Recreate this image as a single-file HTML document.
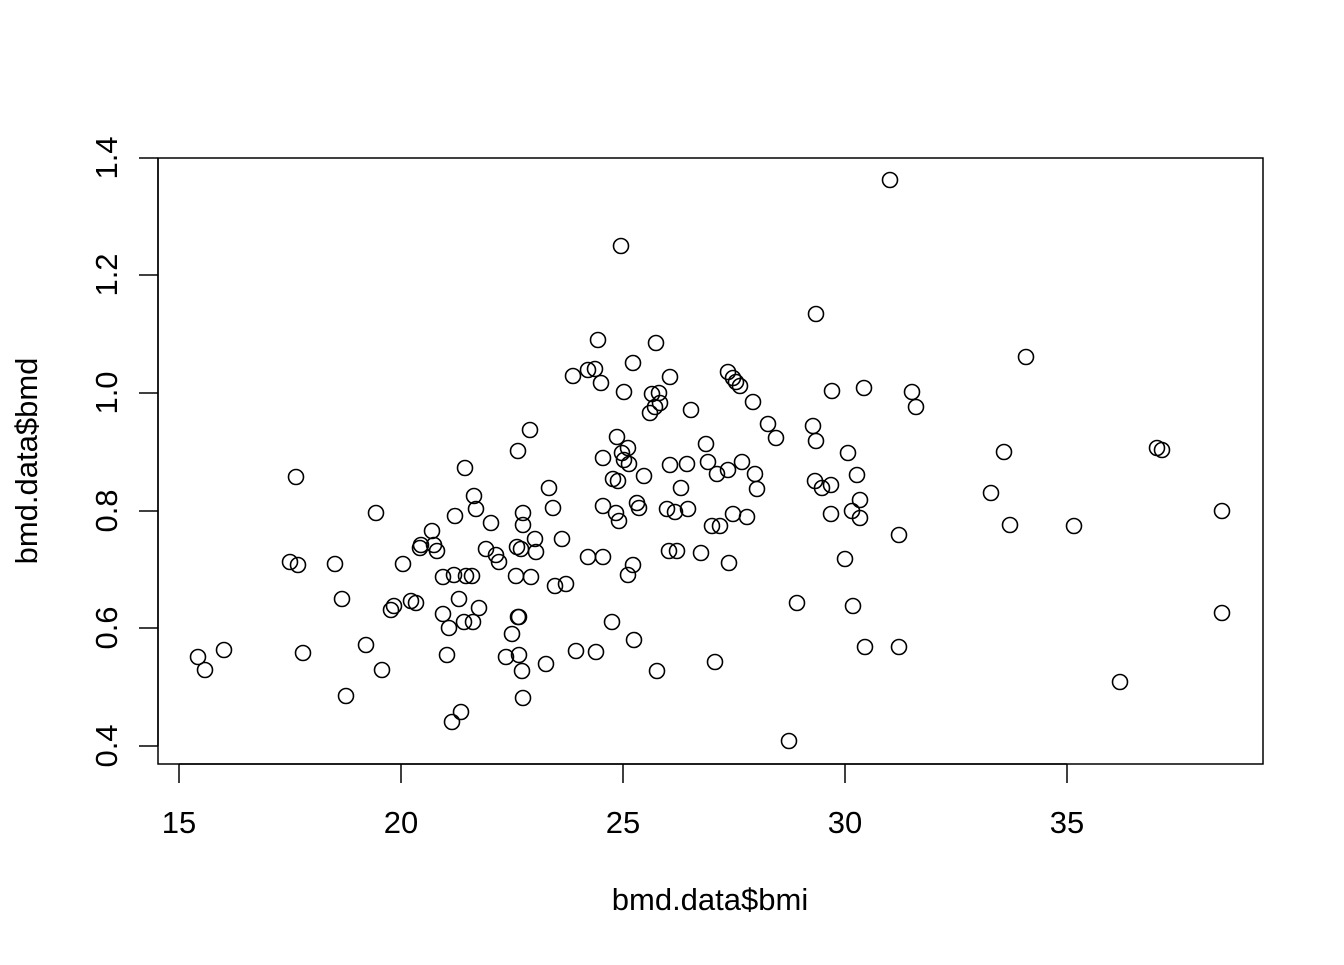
<!DOCTYPE html><html><head><style>body{margin:0;background:#fff}</style></head><body>
<svg width="1344" height="960" xmlns="http://www.w3.org/2000/svg" font-family="Liberation Sans, sans-serif">
<rect x="0" y="0" width="1344" height="960" fill="#fff"/>
<rect x="158" y="158" width="1105" height="606" fill="none" stroke="#000" stroke-width="1.5"/>
<g stroke="#000" stroke-width="1.5">
<line x1="179" y1="764" x2="1067" y2="764"/>
<line x1="179" y1="764" x2="179" y2="783"/><line x1="401" y1="764" x2="401" y2="783"/><line x1="623" y1="764" x2="623" y2="783"/><line x1="845" y1="764" x2="845" y2="783"/><line x1="1067" y1="764" x2="1067" y2="783"/>
<line x1="158" y1="158" x2="158" y2="746"/>
<line x1="139" y1="746" x2="158" y2="746"/><line x1="139" y1="628" x2="158" y2="628"/><line x1="139" y1="511" x2="158" y2="511"/><line x1="139" y1="393" x2="158" y2="393"/><line x1="139" y1="275" x2="158" y2="275"/><line x1="139" y1="158" x2="158" y2="158"/>
</g>
<g font-size="31" text-anchor="middle" fill="#000">
<text x="179" y="833">15</text><text x="401" y="833">20</text><text x="623" y="833">25</text><text x="845" y="833">30</text><text x="1067" y="833">35</text>
<text x="710" y="910">bmd.data$bmi</text>
<text transform="translate(117,746) rotate(-90)">0.4</text>
<text transform="translate(117,628) rotate(-90)">0.6</text>
<text transform="translate(117,511) rotate(-90)">0.8</text>
<text transform="translate(117,393) rotate(-90)">1.0</text>
<text transform="translate(117,275) rotate(-90)">1.2</text>
<text transform="translate(117,158) rotate(-90)">1.4</text>
<text transform="translate(37,461) rotate(-90)">bmd.data$bmd</text>
</g>
<g fill="none" stroke="#000" stroke-width="1.6">
<circle cx="198" cy="657" r="7.5"/><circle cx="205" cy="670" r="7.5"/><circle cx="224" cy="650" r="7.5"/><circle cx="290" cy="562" r="7.5"/><circle cx="298" cy="565" r="7.5"/><circle cx="296" cy="477" r="7.5"/><circle cx="303" cy="653" r="7.5"/><circle cx="335" cy="564" r="7.5"/><circle cx="342" cy="599" r="7.5"/><circle cx="346" cy="696" r="7.5"/><circle cx="366" cy="645" r="7.5"/><circle cx="376" cy="513" r="7.5"/><circle cx="382" cy="670" r="7.5"/><circle cx="391" cy="610" r="7.5"/><circle cx="394" cy="606" r="7.5"/><circle cx="403" cy="564" r="7.5"/><circle cx="411" cy="601" r="7.5"/><circle cx="416" cy="603" r="7.5"/><circle cx="420" cy="548" r="7.5"/><circle cx="421" cy="545" r="7.5"/><circle cx="432" cy="531" r="7.5"/><circle cx="434" cy="545" r="7.5"/><circle cx="437" cy="551" r="7.5"/><circle cx="443" cy="614" r="7.5"/><circle cx="443" cy="577" r="7.5"/><circle cx="447" cy="655" r="7.5"/><circle cx="449" cy="628" r="7.5"/><circle cx="452" cy="722" r="7.5"/><circle cx="454" cy="575" r="7.5"/><circle cx="455" cy="516" r="7.5"/><circle cx="459" cy="599" r="7.5"/><circle cx="461" cy="712" r="7.5"/><circle cx="464" cy="622" r="7.5"/><circle cx="465" cy="468" r="7.5"/><circle cx="466" cy="576" r="7.5"/><circle cx="472" cy="576" r="7.5"/><circle cx="473" cy="622" r="7.5"/><circle cx="474" cy="496" r="7.5"/><circle cx="476" cy="509" r="7.5"/><circle cx="479" cy="608" r="7.5"/><circle cx="486" cy="549" r="7.5"/><circle cx="491" cy="523" r="7.5"/><circle cx="496" cy="555" r="7.5"/><circle cx="499" cy="562" r="7.5"/><circle cx="506" cy="657" r="7.5"/><circle cx="512" cy="634" r="7.5"/><circle cx="516" cy="576" r="7.5"/><circle cx="517" cy="547" r="7.5"/><circle cx="518" cy="451" r="7.5"/><circle cx="518" cy="617" r="7.5"/><circle cx="519" cy="617" r="7.5"/><circle cx="519" cy="655" r="7.5"/><circle cx="521" cy="549" r="7.5"/><circle cx="522" cy="671" r="7.5"/><circle cx="523" cy="698" r="7.5"/><circle cx="523" cy="513" r="7.5"/><circle cx="523" cy="525" r="7.5"/><circle cx="530" cy="430" r="7.5"/><circle cx="531" cy="577" r="7.5"/><circle cx="535" cy="539" r="7.5"/><circle cx="536" cy="552" r="7.5"/><circle cx="546" cy="664" r="7.5"/><circle cx="549" cy="488" r="7.5"/><circle cx="553" cy="508" r="7.5"/><circle cx="555" cy="586" r="7.5"/><circle cx="562" cy="539" r="7.5"/><circle cx="566" cy="584" r="7.5"/><circle cx="573" cy="376" r="7.5"/><circle cx="576" cy="651" r="7.5"/><circle cx="588" cy="557" r="7.5"/><circle cx="588" cy="370" r="7.5"/><circle cx="595" cy="369" r="7.5"/><circle cx="596" cy="652" r="7.5"/><circle cx="598" cy="340" r="7.5"/><circle cx="601" cy="383" r="7.5"/><circle cx="603" cy="458" r="7.5"/><circle cx="603" cy="506" r="7.5"/><circle cx="603" cy="557" r="7.5"/><circle cx="612" cy="622" r="7.5"/><circle cx="613" cy="479" r="7.5"/><circle cx="616" cy="513" r="7.5"/><circle cx="617" cy="437" r="7.5"/><circle cx="618" cy="481" r="7.5"/><circle cx="619" cy="521" r="7.5"/><circle cx="621" cy="246" r="7.5"/><circle cx="622" cy="453" r="7.5"/><circle cx="624" cy="392" r="7.5"/><circle cx="624" cy="460" r="7.5"/><circle cx="628" cy="448" r="7.5"/><circle cx="629" cy="464" r="7.5"/><circle cx="628" cy="575" r="7.5"/><circle cx="633" cy="565" r="7.5"/><circle cx="634" cy="640" r="7.5"/><circle cx="633" cy="363" r="7.5"/><circle cx="637" cy="503" r="7.5"/><circle cx="639" cy="508" r="7.5"/><circle cx="644" cy="476" r="7.5"/><circle cx="650" cy="413" r="7.5"/><circle cx="652" cy="394" r="7.5"/><circle cx="655" cy="407" r="7.5"/><circle cx="656" cy="343" r="7.5"/><circle cx="657" cy="671" r="7.5"/><circle cx="659" cy="393" r="7.5"/><circle cx="660" cy="403" r="7.5"/><circle cx="667" cy="509" r="7.5"/><circle cx="669" cy="551" r="7.5"/><circle cx="670" cy="465" r="7.5"/><circle cx="670" cy="377" r="7.5"/><circle cx="675" cy="512" r="7.5"/><circle cx="677" cy="551" r="7.5"/><circle cx="681" cy="488" r="7.5"/><circle cx="687" cy="464" r="7.5"/><circle cx="688" cy="509" r="7.5"/><circle cx="691" cy="410" r="7.5"/><circle cx="701" cy="553" r="7.5"/><circle cx="706" cy="444" r="7.5"/><circle cx="708" cy="462" r="7.5"/><circle cx="712" cy="526" r="7.5"/><circle cx="715" cy="662" r="7.5"/><circle cx="717" cy="474" r="7.5"/><circle cx="720" cy="526" r="7.5"/><circle cx="728" cy="372" r="7.5"/><circle cx="728" cy="470" r="7.5"/><circle cx="729" cy="563" r="7.5"/><circle cx="733" cy="378" r="7.5"/><circle cx="733" cy="514" r="7.5"/><circle cx="736" cy="382" r="7.5"/><circle cx="740" cy="386" r="7.5"/><circle cx="742" cy="462" r="7.5"/><circle cx="747" cy="517" r="7.5"/><circle cx="753" cy="402" r="7.5"/><circle cx="755" cy="474" r="7.5"/><circle cx="757" cy="489" r="7.5"/><circle cx="768" cy="424" r="7.5"/><circle cx="776" cy="438" r="7.5"/><circle cx="789" cy="741" r="7.5"/><circle cx="797" cy="603" r="7.5"/><circle cx="813" cy="426" r="7.5"/><circle cx="816" cy="314" r="7.5"/><circle cx="816" cy="441" r="7.5"/><circle cx="815" cy="481" r="7.5"/><circle cx="822" cy="488" r="7.5"/><circle cx="831" cy="485" r="7.5"/><circle cx="831" cy="514" r="7.5"/><circle cx="832" cy="391" r="7.5"/><circle cx="845" cy="559" r="7.5"/><circle cx="848" cy="453" r="7.5"/><circle cx="852" cy="511" r="7.5"/><circle cx="853" cy="606" r="7.5"/><circle cx="857" cy="475" r="7.5"/><circle cx="860" cy="500" r="7.5"/><circle cx="860" cy="518" r="7.5"/><circle cx="864" cy="388" r="7.5"/><circle cx="865" cy="647" r="7.5"/><circle cx="890" cy="180" r="7.5"/><circle cx="899" cy="535" r="7.5"/><circle cx="899" cy="647" r="7.5"/><circle cx="912" cy="392" r="7.5"/><circle cx="916" cy="407" r="7.5"/><circle cx="991" cy="493" r="7.5"/><circle cx="1004" cy="452" r="7.5"/><circle cx="1010" cy="525" r="7.5"/><circle cx="1026" cy="357" r="7.5"/><circle cx="1074" cy="526" r="7.5"/><circle cx="1120" cy="682" r="7.5"/><circle cx="1157" cy="448" r="7.5"/><circle cx="1162" cy="450" r="7.5"/><circle cx="1222" cy="511" r="7.5"/><circle cx="1222" cy="613" r="7.5"/>
</g>
</svg></body></html>
